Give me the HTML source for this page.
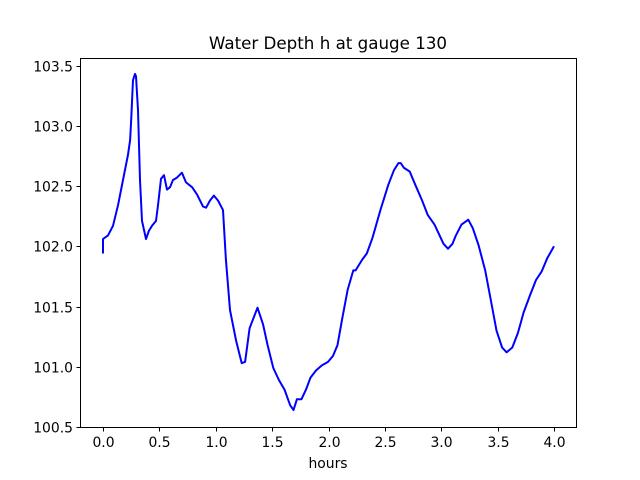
<!DOCTYPE html>
<html><head><meta charset="utf-8"><style>body{margin:0;background:#fff}svg{display:block;font-family:"DejaVu Sans","Liberation Sans",sans-serif}</style></head>
<body>
<svg id="chart" width="640" height="480">
<rect x="0" y="0" width="640" height="480" fill="#fff"/>
<text x="328" y="49" font-size="16.7" text-anchor="middle">Water Depth h at gauge 130</text>
<g id="xt"></g>
<g id="yt"></g>
<path id="line" fill="none" stroke="#0000ff" stroke-width="2" stroke-linejoin="round"/>
<rect x="80.5" y="58.5" width="496" height="369" fill="none" stroke="#000" stroke-width="1"/>
<text x="328" y="468" font-size="13.9" text-anchor="middle">hours</text>
</svg>
<script>
const hours=[0,0,0.044,0.089,0.133,0.177,0.222,0.24,0.25,0.266,0.284,0.293,0.31,0.328,0.346,0.381,0.408,0.435,0.47,0.488,0.514,0.541,0.568,0.594,0.621,0.656,0.70,0.736,0.79,0.834,0.887,0.914,0.949,0.984,1.02,1.064,1.09,1.126,1.18,1.23,1.26,1.30,1.37,1.42,1.46,1.51,1.56,1.61,1.66,1.69,1.72,1.76,1.80,1.84,1.89,1.94,1.996,2.04,2.08,2.12,2.17,2.22,2.24,2.30,2.34,2.39,2.46,2.53,2.58,2.62,2.64,2.67,2.72,2.77,2.83,2.88,2.94,2.97,3.02,3.06,3.10,3.13,3.18,3.24,3.28,3.33,3.39,3.44,3.49,3.54,3.58,3.63,3.68,3.73,3.79,3.84,3.89,3.94,4.0];
const depth=[101.94,102.06,102.09,102.17,102.34,102.55,102.76,102.88,103.05,103.38,103.43,103.41,103.13,102.55,102.21,102.06,102.13,102.17,102.21,102.34,102.56,102.59,102.47,102.49,102.55,102.57,102.61,102.53,102.49,102.43,102.33,102.32,102.38,102.42,102.38,102.30,101.89,101.47,101.22,101.03,101.04,101.32,101.49,101.35,101.18,100.99,100.89,100.81,100.68,100.64,100.73,100.73,100.81,100.91,100.97,101.01,101.04,101.09,101.18,101.39,101.64,101.80,101.80,101.89,101.94,102.07,102.30,102.51,102.63,102.69,102.69,102.65,102.62,102.51,102.38,102.26,102.18,102.12,102.02,101.98,102.02,102.09,102.18,102.22,102.15,102.01,101.80,101.55,101.30,101.16,101.12,101.16,101.28,101.45,101.60,101.72,101.79,101.90,102.00];
const xTicks=[0,0.5,1,1.5,2,2.5,3,3.5,4];
const yTicks=[100.5,101,101.5,102,102.5,103,103.5];
const sx=v=>103+v*112.75;
const sy=v=>427-(v-100.5)*120.5;
const NS='http://www.w3.org/2000/svg';
document.getElementById('line').setAttribute('d',hours.map((h,i)=>(i?'L':'M')+sx(h).toFixed(1)+','+sy(depth[i]).toFixed(1)).join(''));
const xt=document.getElementById('xt'),yt=document.getElementById('yt');
xTicks.forEach(t=>{const x=Math.round(sx(t))+0.5;
 const l=document.createElementNS(NS,'line');l.setAttribute('x1',x);l.setAttribute('x2',x);l.setAttribute('y1',428);l.setAttribute('y2',431.5);l.setAttribute('stroke','#000');
 
 
 xt.appendChild(l);
 const s=document.createElementNS(NS,'text');s.setAttribute('x',x);s.setAttribute('y',447);s.setAttribute('font-size','13.9');s.setAttribute('text-anchor','middle');s.textContent=t.toFixed(1);
 
 
 xt.appendChild(s);});
yTicks.forEach(t=>{const y=Math.round(sy(t))+0.5;
 const l=document.createElementNS(NS,'line');l.setAttribute('x1',76.5);l.setAttribute('x2',80);l.setAttribute('y1',y);l.setAttribute('y2',y);l.setAttribute('stroke','#000');
 
 
 yt.appendChild(l);
 const s=document.createElementNS(NS,'text');s.setAttribute('x',73);s.setAttribute('y',y+5);s.setAttribute('font-size','13.9');s.setAttribute('text-anchor','end');s.textContent=t.toFixed(1);
 
 
 yt.appendChild(s);});
</script>
</body></html>
